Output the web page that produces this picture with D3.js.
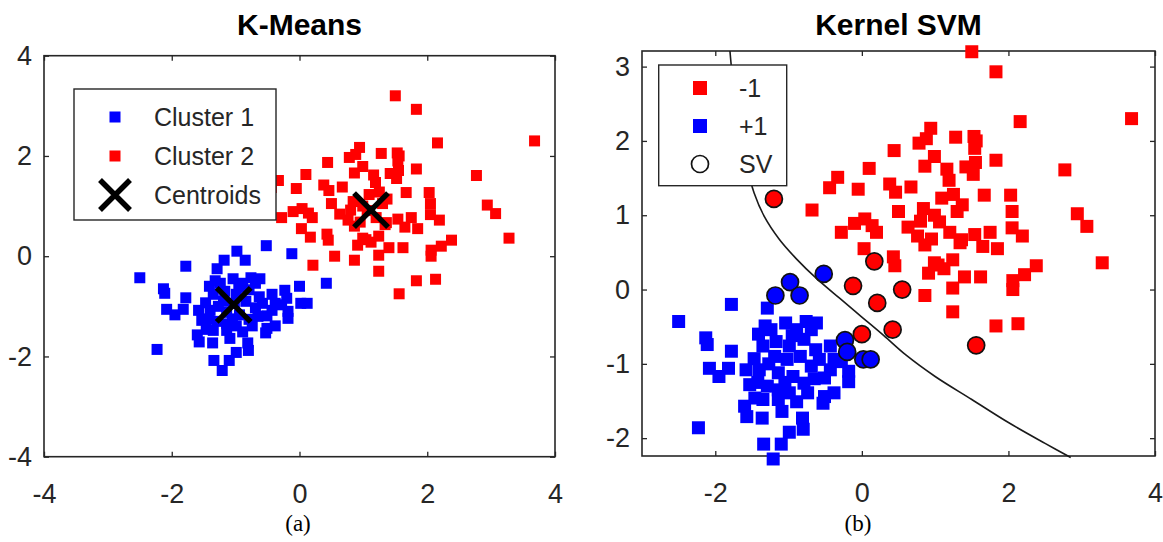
<!DOCTYPE html>
<html><head><meta charset="utf-8">
<script src="https://cdn.jsdelivr.net/npm/d3@7"></script>
<style>body{margin:0;background:#fff}svg{display:block}</style>
</head><body><svg id="c" width="1163" height="542"></svg>
<script>
// ---------------- data ----------------
// class -1 (red squares)
const negX = [1.50,1.83,3.68,2.16,0.94,0.88,1.28,1.53,0.78,0.44,1.54,1.83,0.99,0.86,1.55,1.16,1.42,0.10,2.77,-0.33,-0.44,-0.05,0.38,0.46,0.67,1.19,1.09,1.25,1.67,2.03,-0.68,0.50,0.84,0.99,1.37,2.05,2.94,3.07,0.04,0.14,-0.10,-0.28,0.20,0.63,0.76,0.86,1.06,1.20,1.34,1.54,1.75,1.65,1.85,2.05,2.19,0.03,0.43,1.04,3.28,2.38,2.22,1.36,0.86,1.24,1.24,1.40,1.62,1.83,2.13,2.06,2.06,0.91,0.99,1.12,0.45,0.80,1.24,1.52,1.56,0.95,1.30];
const negY = [3.20,2.93,2.30,2.26,2.17,2.03,2.05,2.06,1.97,1.87,1.90,1.74,1.79,1.66,1.71,1.62,1.65,1.63,1.61,1.51,1.37,1.35,1.42,1.31,1.38,1.47,1.23,1.28,1.27,1.27,1.07,1.05,1.09,1.00,1.14,1.05,1.02,0.85,0.95,0.86,0.89,0.77,0.77,0.84,0.72,0.60,0.91,0.77,0.63,0.74,0.77,0.58,0.55,0.83,0.72,0.55,0.44,0.33,0.36,0.32,0.20,0.67,-0.08,-0.30,0.02,0.17,0.17,-0.49,-0.46,0.00,0.12,0.22,0.36,0.28,0.32,0.92,0.40,1.55,2.00,0.68,1.05];
// class +1 (blue squares)
const posX = [-2.50,-1.78,-1.29,-2.13,-2.11,-1.78,-2.08,-1.95,-1.82,-1.47,-1.58,-1.53,-1.46,-1.60,-1.57,-1.36,-2.23,-1.34,-1.10,-1.21,-0.99,-0.80,-0.81,-1.09,-0.51,-0.38,-0.53,-0.18,-0.18,-0.28,-0.43,-0.38,-0.63,-0.76,-0.69,-1.32,-1.04,-0.89,-1.17,-0.99,-0.79,-1.19,-1.02,-0.84,-0.69,-1.14,-0.94,-0.79,-1.14,-0.99,-0.74,-1.14,-0.89,-1.35,-1.29,-1.40,-1.35,-1.24,-0.51,-0.58,-0.43,-1.41,-1.27,-1.05,-0.65,-0.95,-0.62,-1.42];
const posY = [-0.43,-0.20,-0.25,-0.65,-0.74,-0.83,-1.06,-1.17,-1.06,-0.93,-1.08,-1.28,-1.46,-1.57,-1.71,-1.73,-1.86,-2.08,-2.08,-2.28,-1.92,-1.88,-1.73,-1.64,-1.44,-1.39,-1.53,-1.24,-1.10,-0.97,-0.76,-0.94,-0.81,-0.43,-0.54,-0.49,-0.45,-0.54,-0.70,-0.76,-0.67,-0.90,-0.94,-0.90,-1.03,-1.12,-1.17,-1.26,-1.35,-1.39,-1.39,-1.48,-1.51,-1.48,-1.30,-1.08,-0.76,-0.54,-1.19,-0.94,-1.08,-0.60,-1.00,-1.25,-1.20,-0.62,-0.45,-1.25];
// support vectors
const svNegX = [-1.20,0.17,-0.12,0.55,0.21,0.00,0.42,1.56];
const svNegY = [1.22,0.38,0.05,0.00,-0.18,-0.60,-0.54,-0.75];
const svPosX = [-0.52,-0.98,-1.18,-0.85,-0.23,-0.20,0.02,0.12];
const svPosY = [0.21,0.10,-0.08,-0.08,-0.68,-0.84,-0.94,-0.94];
// class -1 support vectors that K-Means put into Cluster 1
const kmNegSVinCluster1 = [0,2,5,6];
// K-Means centroids
const centX = [-1.03,1.12];
const centY = [-0.97,0.92];
// SVM decision boundary
const bndX = [-1.80,-1.76,-1.68,-1.58,-1.47,-1.33,-1.13,-0.90,-0.62,-0.30,0.00,0.30,0.60,1.00,1.50,2.00,2.50,2.85];
const bndY = [3.21,2.80,2.20,1.70,1.30,0.98,0.68,0.42,0.15,-0.12,-0.37,-0.62,-0.88,-1.17,-1.48,-1.79,-2.07,-2.26];
// ticks & labels
const kmTicksX = [-4,-2,0,2,4], kmTicksY = [-4,-2,0,2,4];
const svmTicksX = [-2,0,2,4], svmTicksY = [-2,-1,0,1,2,3];
const kmLegend = ["Cluster 1","Cluster 2","Centroids"];
const svmLegend = ["-1","+1","SV"];
const titles = ["K-Means","Kernel SVM"];
const captions = ["(a)","(b)"];

// ---------------- drawing ----------------
const RED="#ff0000", BLUE="#0000ff", AX="#262626";
const SANS='"Liberation Sans", Arial, Helvetica, sans-serif';
const SERIF='"Liberation Serif", "Times New Roman", serif';
const TICK_FS=27, LEG_FS=25, TITLE_FS=30;
const svg = d3.select("#c");

function frame(xs, ys, xt, yt){
  const [x0,x1]=xs.range(), [y1,y0]=ys.range();
  const g = svg.append("g");
  g.append("rect").attr("x",x0).attr("y",y0).attr("width",x1-x0).attr("height",y1-y0)
   .attr("fill","#fff").attr("stroke",AX).attr("stroke-width",1.6);
  const style = sel => { sel.select(".domain").remove();
    sel.selectAll("line").attr("stroke",AX).attr("stroke-width",1.3);
    sel.selectAll("text").attr("fill",AX).style("font-family",SANS).style("font-size",TICK_FS+"px"); };
  g.append("g").attr("transform",`translate(0,${y1})`)
   .call(d3.axisBottom(xs).tickValues(xt).tickSizeInner(-5).tickSizeOuter(0).tickPadding(27).tickFormat(d3.format("d"))).call(style);
  g.append("g").attr("transform",`translate(0,${y0})`)
   .call(d3.axisTop(xs).tickValues(xt).tickSizeInner(-5).tickSizeOuter(0).tickFormat("")).call(style);
  g.append("g").attr("transform",`translate(${x0},0)`)
   .call(d3.axisLeft(ys).tickValues(yt).tickSizeInner(-5).tickSizeOuter(0).tickPadding(12).tickFormat(d3.format("d"))).call(style);
  g.append("g").attr("transform",`translate(${x1},0)`)
   .call(d3.axisRight(ys).tickValues(yt).tickSizeInner(-5).tickSizeOuter(0).tickFormat("")).call(style);
  g.selectAll("text").text(function(){ return d3.select(this).text().replace("\u2212","-"); });
  return g;
}
function squares(xs, ys, X, Y, color, side){
  const sym = d3.symbol().type(d3.symbolSquare).size(side*side);
  svg.append("g").selectAll("path").data(X.map((x,i)=>[x,Y[i]])).join("path")
    .attr("d",sym).attr("transform",d=>`translate(${xs(d[0])},${ys(d[1])})`).attr("fill",color);
}
function xMark(g, cx, cy, h, w){
  g.append("path").attr("d",`M${cx-h},${cy-h}L${cx+h},${cy+h}M${cx-h},${cy+h}L${cx+h},${cy-h}`)
   .attr("stroke","#000").attr("stroke-width",w).attr("fill","none");
}
function title(x, t){
  svg.append("text").attr("x",x).attr("y",35).attr("text-anchor","middle")
    .style("font-family",SANS).style("font-size",TITLE_FS+"px").style("font-weight","bold").attr("fill","#000").text(t);
}
function caption(x, t){
  svg.append("text").attr("x",x).attr("y",531).attr("text-anchor","middle")
    .style("font-family",SERIF).style("font-size","23px").attr("fill","#000").text(t);
}

// ----- (a) K-Means -----
const xa = d3.scaleLinear().domain([-4,4]).range([44,555]);
const ya = d3.scaleLinear().domain([-4,4]).range([456.7,55.7]);
frame(xa, ya, kmTicksX, kmTicksY);
const c1X = posX.concat(svPosX, kmNegSVinCluster1.map(i=>svNegX[i]));
const c1Y = posY.concat(svPosY, kmNegSVinCluster1.map(i=>svNegY[i]));
const c2X = negX.concat(svNegX.filter((d,i)=>!kmNegSVinCluster1.includes(i)));
const c2Y = negY.concat(svNegY.filter((d,i)=>!kmNegSVinCluster1.includes(i)));
squares(xa, ya, c1X, c1Y, BLUE, 11);
squares(xa, ya, c2X, c2Y, RED, 11);
const cg = svg.append("g");
centX.forEach((x,i)=>xMark(cg, xa(x), ya(centY[i]), 17, 5.5));
title((xa(-4)+xa(4))/2, titles[0]);
const lgA = svg.append("g");
lgA.append("rect").attr("x",74).attr("y",89).attr("width",202).attr("height",131)
  .attr("fill","#fff").attr("stroke",AX).attr("stroke-width",1.4);
const lgAy=[117,156,195];
lgA.append("rect").attr("x",115-5.5).attr("y",lgAy[0]-5.5).attr("width",11).attr("height",11).attr("fill",BLUE);
lgA.append("rect").attr("x",115-5.5).attr("y",lgAy[1]-5.5).attr("width",11).attr("height",11).attr("fill",RED);
xMark(lgA,115,lgAy[2],15,5.5);
kmLegend.forEach((t,i)=>lgA.append("text").attr("x",154).attr("y",lgAy[i]+9)
  .style("font-family",SANS).style("font-size",LEG_FS+"px").attr("fill",AX).text(t));
caption(298, captions[0]);

// ----- (b) Kernel SVM -----
const xb = d3.scaleLinear().domain([-3,4]).range([642,1155]);
const yb = d3.scaleLinear().domain([-2.24,3.21]).range([456,51]);
frame(xb, yb, svmTicksX, svmTicksY);
squares(xb, yb, negX, negY, RED, 13);
squares(xb, yb, posX, posY, BLUE, 13);
const svg2 = svg.append("g");
svg2.selectAll("circle.n").data(svNegX.map((x,i)=>[x,svNegY[i]])).join("circle")
  .attr("cx",d=>xb(d[0])).attr("cy",d=>yb(d[1])).attr("r",8.5).attr("fill",RED).attr("stroke","#111").attr("stroke-width",1.7);
svg2.selectAll("circle.p").data(svPosX.map((x,i)=>[x,svPosY[i]])).join("circle")
  .attr("cx",d=>xb(d[0])).attr("cy",d=>yb(d[1])).attr("r",8.5).attr("fill",BLUE).attr("stroke","#111").attr("stroke-width",1.7);
svg.append("path").datum(bndX.map((x,i)=>[x,bndY[i]]))
  .attr("d",d3.line().x(d=>xb(d[0])).y(d=>yb(d[1])).curve(d3.curveCatmullRom))
  .attr("fill","none").attr("stroke","#1a1a1a").attr("stroke-width",1.6);
title((xb(-3)+xb(4))/2, titles[1]);
const lgB = svg.append("g");
lgB.append("rect").attr("x",658.7).attr("y",65).attr("width",128).attr("height",120.7)
  .attr("fill","#fff").attr("stroke",AX).attr("stroke-width",1.4);
const lgBy=[88,126,164];
lgB.append("rect").attr("x",700-7).attr("y",lgBy[0]-7).attr("width",14).attr("height",14).attr("fill",RED);
lgB.append("rect").attr("x",700-7).attr("y",lgBy[1]-7).attr("width",14).attr("height",14).attr("fill",BLUE);
lgB.append("circle").attr("cx",700).attr("cy",lgBy[2]).attr("r",8.5).attr("fill","none").attr("stroke","#111").attr("stroke-width",1.7);
svmLegend.forEach((t,i)=>lgB.append("text").attr("x",739).attr("y",lgBy[i]+9)
  .style("font-family",SANS).style("font-size",LEG_FS+"px").attr("fill",AX).text(t));
caption(858, captions[1]);
</script></body></html>
